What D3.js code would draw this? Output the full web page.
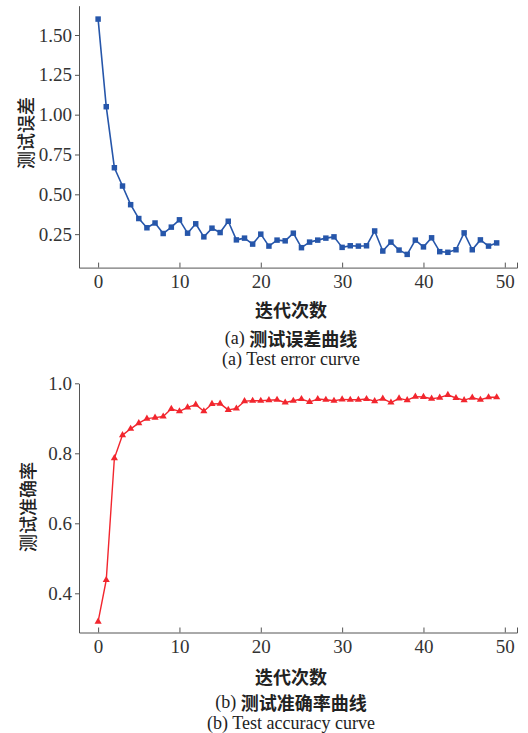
<!DOCTYPE html>
<html>
<head>
<meta charset="utf-8">
<script src="https://cdn.jsdelivr.net/npm/d3@7"></script>
<style>
  body { margin: 0; background: #fff; }
  svg { display: block; }
</style>
</head>
<body>
<svg id="chart" width="528" height="733"></svg>
<script>
// iterations 0..49
var epochs = d3.range(0, 50);

// test error per iteration (panel a)
var errorValues = [1.60, 1.05, 0.667, 0.552, 0.435, 0.348, 0.29, 0.32, 0.254, 0.294,
  0.34, 0.256, 0.315, 0.233, 0.2875, 0.26, 0.331, 0.214, 0.225, 0.1875,
  0.25, 0.175, 0.2125, 0.208, 0.256, 0.165, 0.20, 0.2125, 0.225, 0.233,
  0.167, 0.177, 0.175, 0.177, 0.27, 0.144, 0.20, 0.15, 0.123, 0.2125,
  0.17, 0.227, 0.14, 0.136, 0.152, 0.258, 0.152, 0.214, 0.175, 0.195];

// test accuracy per iteration (panel b)
var accuracyValues = [0.319, 0.438, 0.786, 0.852, 0.870, 0.886, 0.899, 0.902, 0.905, 0.927,
  0.920, 0.931, 0.939, 0.920, 0.941, 0.942, 0.924, 0.928, 0.949, 0.950,
  0.950, 0.952, 0.953, 0.945, 0.950, 0.955, 0.947, 0.955, 0.953, 0.950,
  0.954, 0.953, 0.953, 0.955, 0.949, 0.956, 0.945, 0.957, 0.952, 0.962,
  0.961, 0.956, 0.959, 0.967, 0.958, 0.952, 0.959, 0.953, 0.960, 0.960];

var xTicks = [0, 10, 20, 30, 40, 50];
var errorTicks = [0.25, 0.50, 0.75, 1.00, 1.25, 1.50];
var accuracyTicks = [0.4, 0.6, 0.8, 1.0];

var xLabel = "迭代次数";
var errorLabel = "测试误差";
var accuracyLabel = "测试准确率";
var captionsCn = ["测试误差曲线", "测试准确率曲线"];
var captionsEn = ["Test error curve", "Test accuracy curve"];

var SERIF = "'Liberation Serif', 'Times New Roman', 'DejaVu Serif', serif";
var CJK = "'Noto Sans CJK SC', sans-serif";

var svg = d3.select("#chart");

var x = d3.scaleLinear().domain([-2.35, 51.5]).range([79, 517]);

var panels = [
  {
    values: errorValues, ticks: errorTicks, fmt: ".2f", label: errorLabel,
    yDomain: [0.04, 1.684], yRange: [267.6, 5.7],
    color: "#2656aa", symbol: d3.symbolSquare, symSize: 30, lw: 1.6,
    tag: "(a)", cn: captionsCn[0], en: captionsEn[0],
    labelX: 25, labelY: 133, xTitleY: 309, capY: 337.5, enY: 359
  },
  {
    values: accuracyValues, ticks: accuracyTicks, fmt: ".1f", label: accuracyLabel,
    yDomain: [0.288, 1.0], yRange: [632.5, 383.3],
    color: "#f2262e", symbol: d3.symbolTriangle, symSize: 22, lw: 1.4,
    tag: "(b)", cn: captionsCn[1], en: captionsEn[1],
    labelX: 27, labelY: 507, xTitleY: 675.5, capY: 701.5, enY: 722.5
  }
];

panels.forEach(function (p) {
  var y = d3.scaleLinear().domain(p.yDomain).range(p.yRange);
  var g = svg.append("g");

  // x axis, ticks pointing inward
  var xAxis = g.append("g")
    .attr("transform", "translate(0," + p.yRange[0] + ")")
    .call(d3.axisBottom(x).tickValues(xTicks).tickSizeInner(-5).tickSizeOuter(-5).tickPadding(7));

  var yAxis = g.append("g")
    .attr("transform", "translate(" + x.range()[0] + ",0)")
    .call(d3.axisLeft(y).tickValues(p.ticks).tickFormat(d3.format(p.fmt)).tickSizeInner(4).tickSizeOuter(0).tickPadding(3));

  [xAxis, yAxis].forEach(function (a) {
    a.attr("font-family", SERIF).attr("font-size", 19);
    a.select(".domain").attr("stroke", "#555").attr("stroke-width", 1);
    a.selectAll(".tick line").attr("stroke", "#555");
    a.selectAll(".tick text").attr("fill", "#333");
  });

  var line = d3.line()
    .x(function (d, i) { return x(epochs[i]); })
    .y(function (d) { return y(d); });

  g.append("path")
    .datum(p.values)
    .attr("fill", "none")
    .attr("stroke", p.color)
    .attr("stroke-width", p.lw)
    .attr("stroke-linejoin", "round")
    .attr("d", line);

  g.selectAll(".marker")
    .data(p.values)
    .enter().append("path")
    .attr("class", "marker")
    .attr("transform", function (d, i) { return "translate(" + x(epochs[i]) + "," + y(d) + ")"; })
    .attr("d", d3.symbol().type(p.symbol).size(p.symSize))
    .attr("fill", p.color);

  // y title
  g.append("text")
    .attr("font-family", CJK)
    .attr("font-weight", 500)
    .attr("transform", "translate(" + p.labelX + "," + p.labelY + ") rotate(-90)")
    .attr("text-anchor", "middle")
    .attr("dominant-baseline", "central")
    .attr("font-size", 18)
    .attr("fill", "#222")
    .text(p.label);

  // x title
  g.append("text")
    .attr("font-family", CJK)
    .attr("font-weight", "bold")
    .attr("x", 291).attr("y", p.xTitleY)
    .attr("text-anchor", "middle")
    .attr("dominant-baseline", "central")
    .attr("font-size", 18)
    .attr("fill", "#222")
    .text(xLabel);

  // captions
  var cap = g.append("text")
    .attr("x", 291).attr("y", p.capY)
    .attr("text-anchor", "middle")
    .attr("dominant-baseline", "central")
    .attr("font-size", 18)
    .attr("fill", "#222");
  cap.append("tspan").attr("font-family", SERIF).text(p.tag + " ");
  cap.append("tspan").attr("font-family", CJK).attr("font-weight", "bold").text(p.cn);

  g.append("text")
    .attr("font-family", SERIF)
    .attr("x", 291).attr("y", p.enY)
    .attr("text-anchor", "middle")
    .attr("dominant-baseline", "central")
    .attr("font-size", 18)
    .attr("fill", "#222")
    .text(p.tag + " " + p.en);
});
</script>
</body>
</html>
